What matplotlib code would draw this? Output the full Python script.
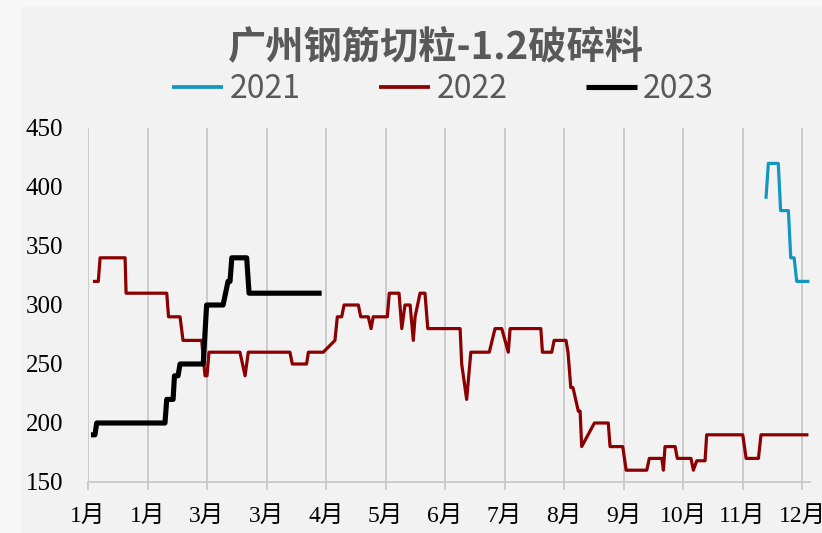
import matplotlib
matplotlib.use("Agg")
import matplotlib.pyplot as plt

# ---- data (x = day index, 30 days per tick) ----
days_2021 = [341.8, 343.0, 348.0, 349.2, 353.1, 354.3, 356.0, 357.3, 363.7]
vals_2021 = [390, 420, 420, 380, 380, 340, 340, 320, 320]

days_2022 = [2.5, 5.2, 6.1, 18.7, 19.2, 39.7, 40.6, 46.4, 47.9, 57.3, 59.0, 60.0, 61.0,
             76.6, 79.2, 80.8, 101.8, 103.0, 110.2, 111.1, 118.6, 124.5, 125.7, 127.9,
             129.1, 136.3, 137.5, 141.3, 142.7, 143.8, 150.9, 151.9, 156.8, 158.2, 159.8,
             162.4, 164.0, 164.9, 167.4, 169.9, 171.3, 187.6, 188.4, 190.9, 193.0, 202.3,
             205.2, 208.6, 211.9, 212.8, 228.3, 229.1, 233.8, 235.0, 241.0, 242.0, 243.4,
             244.5, 247.2, 248.1, 248.9, 255.3, 262.3, 263.2, 269.6, 271.3, 281.7, 283.0,
             289.3, 290.1, 290.9, 296.0, 297.1, 304.0, 305.2, 306.9, 311.1, 311.9, 330.1,
             331.8, 338.0, 339.3, 363.2]
vals_2022 = [320, 320, 340, 340, 310, 310, 290, 290, 270, 270, 240, 240, 260,
             260, 240, 260, 260, 250, 250, 260, 260, 270, 290, 290,
             300, 300, 290, 290, 280, 290, 290, 310, 310, 280, 300,
             300, 270, 290, 310, 310, 280, 280, 250, 220, 260, 260,
             280, 280, 260, 280, 280, 260, 260, 270, 270, 260, 230,
             230, 210, 210, 180, 200, 200, 180, 180, 160, 160, 170,
             170, 160, 180, 180, 170, 170, 160, 168, 168, 190, 190,
             170, 170, 190, 190]

days_2023 = [1.5, 3.5, 4.4, 38.8, 39.7, 42.9, 43.6, 45.4, 46.4, 58.1, 59.8, 68.1,
             70.6, 71.6, 72.5, 80.0, 81.2, 117.8]
vals_2023 = [190, 190, 200, 200, 220, 220, 240, 240, 250, 250, 300, 300,
             320, 320, 340, 340, 310, 310]

tick_days = [0, 30, 60, 90, 120, 150, 180, 210, 240, 270, 300, 330, 360]
tick_labels = ["1月", "1月", "3月", "3月", "4月", "5月", "6月", "7月", "8月",
               "9月", "10月", "11月", "12月"]
y_ticks = [150, 200, 250, 300, 350, 400, 450]

title = "广州钢筋切粒-1.2破碎料"

# ---- figure ----
W, H = 822, 533
fig = plt.figure(figsize=(W / 100, H / 100), dpi=100)
fig.patch.set_facecolor("#f7f7f7")
bg = fig.add_axes([21 / W, 0, 1 - 21 / W, 1 - 7 / H], zorder=0)
bg.set_facecolor("#f2f2f2")
bg.set_xticks([])
bg.set_yticks([])
for s in bg.spines.values():
    s.set_visible(False)

ax = fig.add_axes([88 / W, 1 - 482 / H, (810 - 88) / W, (482 - 128) / H], zorder=2)
ax.patch.set_alpha(0)

ax.plot(days_2021, vals_2021, color="#1396bf", lw=2.3, label="2021",
        solid_joinstyle="round", solid_capstyle="butt", zorder=3)
ax.plot(days_2022, vals_2022, color="#8b0000", lw=2.3, label="2022",
        solid_joinstyle="round", solid_capstyle="butt", zorder=3)
ax.plot(days_2023, vals_2023, color="#000000", lw=3.7, label="2023",
        solid_joinstyle="round", solid_capstyle="butt", zorder=4)

ax.set_xlim(0, 364)
ax.set_ylim(150, 450)
ax.set_xticks(tick_days)
ax.set_xticklabels(tick_labels)
ax.set_yticks(y_ticks)

for s in ["left", "right", "top"]:
    ax.spines[s].set_visible(False)
ax.spines["bottom"].set_color("#c8c8c8")
ax.spines["bottom"].set_linewidth(1.3)

ax.grid(axis="x", color="#c8c8c8", lw=1.3)
ax.set_axisbelow(True)
ax.tick_params(axis="x", length=5.5, width=1.3, color="#c8c8c8", pad=12)
ax.tick_params(axis="y", length=0, pad=18)

tick_font = ["Liberation Serif", "Noto Sans CJK SC"]
for lab in ax.get_xticklabels():
    lab.set_family(tick_font)
    lab.set_fontsize(17)
    lab.set_color("black")
for lab in ax.get_yticklabels():
    lab.set_family(tick_font)
    lab.set_fontsize(18)
    lab.set_color("black")

fig.text(436 / W, 1 - 47 / H, title, ha="center", va="center",
         family=["Noto Sans CJK SC", "DejaVu Sans"], fontweight="bold",
         fontsize=27.5, color="#595959", zorder=5)

leg = fig.legend(loc="center", bbox_to_anchor=(443 / W, 1 - 89 / H), ncol=3,
                 frameon=False, handlelength=1.6, handletextpad=0.2,
                 columnspacing=2.45,
                 prop={"family": ["Noto Sans CJK SC", "DejaVu Sans"], "size": 23})
leg.set_zorder(5)
for t in leg.get_texts():
    t.set_color("#595959")
for l in leg.get_lines():
    l.set_linewidth(3.7 if l.get_label() == "2023" else 2.7)

fig.savefig("out.png", dpi=100, facecolor=fig.get_facecolor())
